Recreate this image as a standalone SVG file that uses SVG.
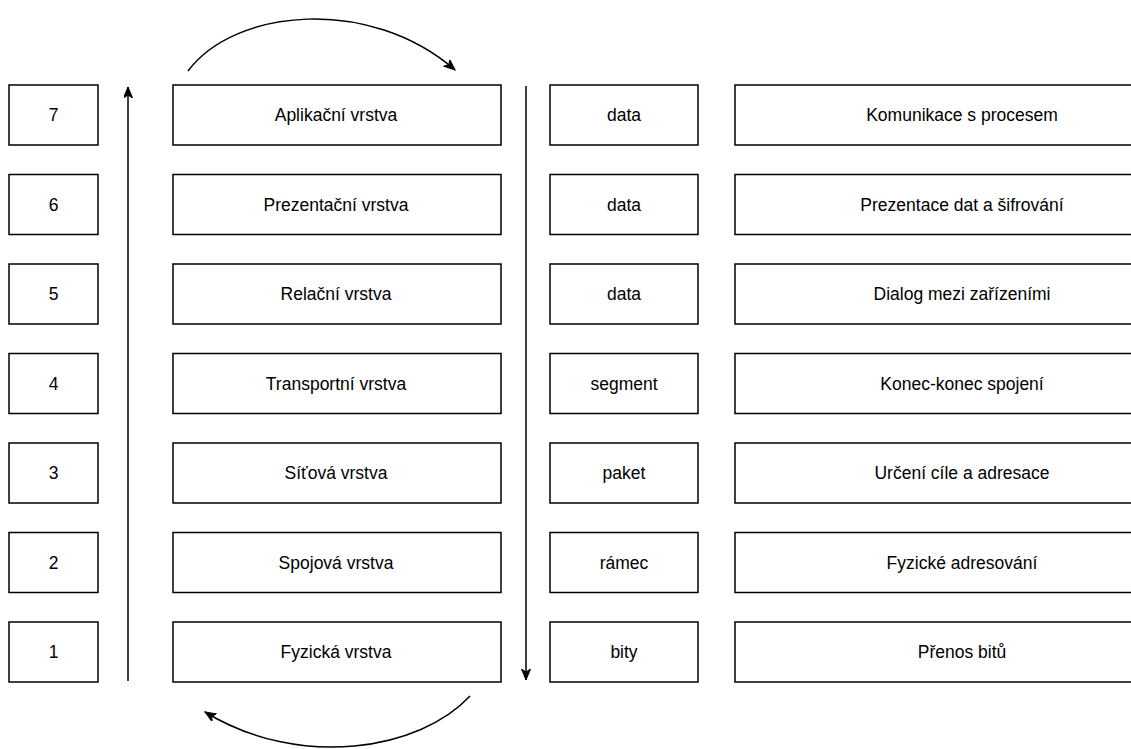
<svg xmlns="http://www.w3.org/2000/svg" width="1131" height="749" viewBox="0 0 1131 749">
<defs>
<style>
.box{fill:#fff;stroke:#000;stroke-width:1.5}
.lbl{font-family:"Liberation Sans",Arial,sans-serif;font-size:17.5px;fill:#000;text-anchor:middle;dominant-baseline:central}
.conn{fill:none;stroke:#000;stroke-width:1.5}
</style>
<marker id="arr" markerUnits="userSpaceOnUse" markerWidth="12" markerHeight="10" refX="11" refY="4.5" orient="auto">
<path d="M0,0 L11,4.5 L0,9 L3,4.5 z" fill="#000" stroke="#000" stroke-width="1"/>
</marker>
</defs>
<rect width="1131" height="749" fill="#fff"/>
<g id="connectors">
<path class="conn" d="M128,681 L128,87" marker-end="url(#arr)"/>
<path class="conn" d="M526,86 L526,680" marker-end="url(#arr)"/>
<path class="conn" d="M188,71 C235,8 370,-4 455,70" marker-end="url(#arr)"/>
<path class="conn" d="M470,696 C420,750 300,770 205,712" marker-end="url(#arr)"/>
</g>
<g id="row7">
<g id="n7"><rect class="box" x="9" y="85" width="89" height="60"/><text class="lbl" x="53.5" y="115">7</text></g>
<g id="l7"><rect class="box" x="173" y="85" width="328" height="60"/><text class="lbl" x="336" y="115">Aplikační vrstva</text></g>
<g id="d7"><rect class="box" x="550" y="85" width="148" height="60"/><text class="lbl" x="624" y="115">data</text></g>
<g id="f7"><rect class="box" x="735" y="85" width="454" height="60"/><text class="lbl" x="962" y="115">Komunikace s procesem</text></g>
</g>
<g id="row6">
<g id="n6"><rect class="box" x="9" y="174.5" width="89" height="60"/><text class="lbl" x="53.5" y="204.5">6</text></g>
<g id="l6"><rect class="box" x="173" y="174.5" width="328" height="60"/><text class="lbl" x="336" y="204.5">Prezentační vrstva</text></g>
<g id="d6"><rect class="box" x="550" y="174.5" width="148" height="60"/><text class="lbl" x="624" y="204.5">data</text></g>
<g id="f6"><rect class="box" x="735" y="174.5" width="454" height="60"/><text class="lbl" x="962" y="204.5">Prezentace dat a šifrování</text></g>
</g>
<g id="row5">
<g id="n5"><rect class="box" x="9" y="264" width="89" height="60"/><text class="lbl" x="53.5" y="294">5</text></g>
<g id="l5"><rect class="box" x="173" y="264" width="328" height="60"/><text class="lbl" x="336" y="294">Relační vrstva</text></g>
<g id="d5"><rect class="box" x="550" y="264" width="148" height="60"/><text class="lbl" x="624" y="294">data</text></g>
<g id="f5"><rect class="box" x="735" y="264" width="454" height="60"/><text class="lbl" x="962" y="294">Dialog mezi zařízeními</text></g>
</g>
<g id="row4">
<g id="n4"><rect class="box" x="9" y="353.5" width="89" height="60"/><text class="lbl" x="53.5" y="383.5">4</text></g>
<g id="l4"><rect class="box" x="173" y="353.5" width="328" height="60"/><text class="lbl" x="336" y="383.5">Transportní vrstva</text></g>
<g id="d4"><rect class="box" x="550" y="353.5" width="148" height="60"/><text class="lbl" x="624" y="383.5">segment</text></g>
<g id="f4"><rect class="box" x="735" y="353.5" width="454" height="60"/><text class="lbl" x="962" y="383.5">Konec-konec spojení</text></g>
</g>
<g id="row3">
<g id="n3"><rect class="box" x="9" y="443" width="89" height="60"/><text class="lbl" x="53.5" y="473">3</text></g>
<g id="l3"><rect class="box" x="173" y="443" width="328" height="60"/><text class="lbl" x="336" y="473">Síťová vrstva</text></g>
<g id="d3"><rect class="box" x="550" y="443" width="148" height="60"/><text class="lbl" x="624" y="473">paket</text></g>
<g id="f3"><rect class="box" x="735" y="443" width="454" height="60"/><text class="lbl" x="962" y="473">Určení cíle a adresace</text></g>
</g>
<g id="row2">
<g id="n2"><rect class="box" x="9" y="532.5" width="89" height="60"/><text class="lbl" x="53.5" y="562.5">2</text></g>
<g id="l2"><rect class="box" x="173" y="532.5" width="328" height="60"/><text class="lbl" x="336" y="562.5">Spojová vrstva</text></g>
<g id="d2"><rect class="box" x="550" y="532.5" width="148" height="60"/><text class="lbl" x="624" y="562.5">rámec</text></g>
<g id="f2"><rect class="box" x="735" y="532.5" width="454" height="60"/><text class="lbl" x="962" y="562.5">Fyzické adresování</text></g>
</g>
<g id="row1">
<g id="n1"><rect class="box" x="9" y="622" width="89" height="60"/><text class="lbl" x="53.5" y="652">1</text></g>
<g id="l1"><rect class="box" x="173" y="622" width="328" height="60"/><text class="lbl" x="336" y="652">Fyzická vrstva</text></g>
<g id="d1"><rect class="box" x="550" y="622" width="148" height="60"/><text class="lbl" x="624" y="652">bity</text></g>
<g id="f1"><rect class="box" x="735" y="622" width="454" height="60"/><text class="lbl" x="962" y="652">Přenos bitů</text></g>
</g>
</svg>
